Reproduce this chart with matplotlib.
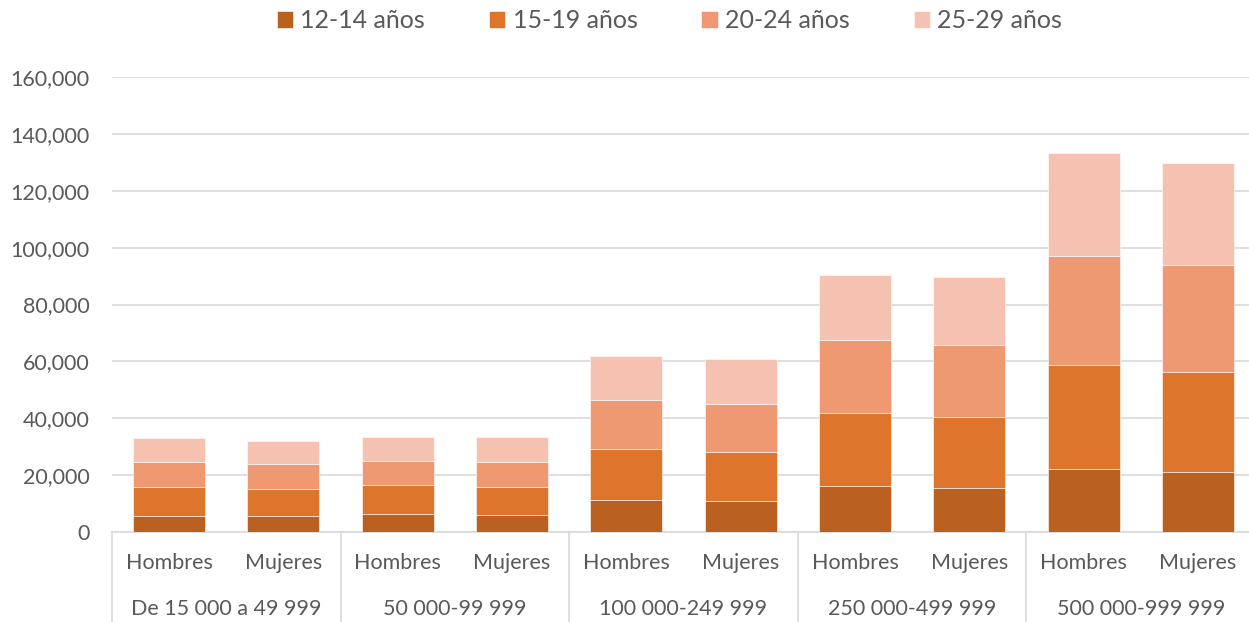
import matplotlib.pyplot as plt
import matplotlib.transforms as mtransforms
from matplotlib.ticker import FuncFormatter

plt.rcParams['font.family'] = ['Lato', 'DejaVu Sans']

grupos = ["De 15 000 a 49 999", "50 000-99 999", "100 000-249 999",
          "250 000-499 999", "500 000-999 999"]
sexos = ["Hombres", "Mujeres"]
edades = ["12-14 años", "15-19 años", "20-24 años", "25-29 años"]

# valores por barra (H, M de cada grupo)
e12_14 = [5700, 5700, 6300, 6000, 11100, 10800, 16100, 15500, 22300, 21000]
e15_19 = [10000, 9500, 10300, 9900, 18200, 17400, 25800, 25000, 36500, 35300]
e20_24 = [8900, 8600, 8500, 8700, 17200, 16900, 25500, 25300, 38200, 37700]
e25_29 = [8300, 8200, 8400, 8800, 15400, 15700, 22900, 23800, 36400, 35800]

colores = ["#BA6122", "#DE752C", "#EF9972", "#F5C2B2"]
gris = "#595959"
linea = "#D9D9D9"

fig = plt.figure(figsize=(12.49, 6.22), dpi=100)
ax = fig.add_axes([112/1249, 90/622, 1143/1249, 455/622])

x = list(range(len(e12_14)))
base = [0]*len(x)
for serie, col, lab in zip([e12_14, e15_19, e20_24, e25_29], colores, edades):
    ax.bar(x, serie, bottom=base, width=0.63, color=col, label=lab,
           edgecolor="white", linewidth=0.4, zorder=3)
    base = [b + s for b, s in zip(base, serie)]

ax.set_xlim(-0.5, len(x) - 0.5)
ax.set_ylim(0, 160000)
ax.set_yticks(range(0, 160001, 20000))
ax.yaxis.set_major_formatter(FuncFormatter(lambda v, p: f"{int(v):,}"))
ax.tick_params(axis="y", length=0, pad=16, labelsize=15.5, labelcolor=gris)
ax.set_xticks([])
ax.grid(axis="y", color=linea, linewidth=1.2, zorder=0)
for s in ["top", "right", "left"]:
    ax.spines[s].set_visible(False)
ax.spines["bottom"].set_color(linea)
ax.spines["bottom"].set_linewidth(1.2)

trans = mtransforms.blended_transform_factory(ax.transData, ax.transAxes)
for i in x:
    ax.text(i, -0.068, sexos[i % 2], transform=trans, ha="center", va="center",
            fontsize=15.5, color=gris)
for g, nombre in enumerate(grupos):
    ax.text(2*g + 0.5, -0.169, nombre, transform=trans, ha="center", va="center",
            fontsize=15.5, color=gris)
for g in range(len(grupos) + 1):
    ax.plot([2*g - 0.5, 2*g - 0.5], [0, -0.2], transform=trans, color=linea,
            linewidth=1.2, clip_on=False)

fig.legend(loc="center", bbox_to_anchor=(0.536, 1 - 21/622), ncol=4, frameon=False,
           fontsize=18, labelcolor=gris, handlelength=0.65, handleheight=0.65,
           handletextpad=0.3, columnspacing=2.55)

fig.savefig("out.png", dpi=100)
